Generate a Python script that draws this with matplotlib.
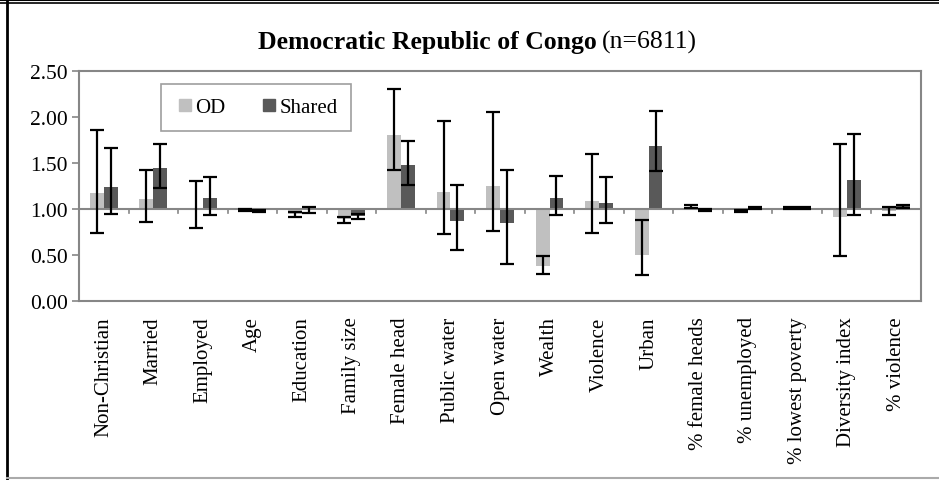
import numpy as np
import matplotlib
matplotlib.use('Agg')
import matplotlib.pyplot as plt
from matplotlib.lines import Line2D

plt.rcParams['font.family'] = ['Liberation Serif', 'DejaVu Serif']

categories = ['Non-Christian', 'Married', 'Employed', 'Age', 'Education', 'Family size',
              'Female head', 'Public water', 'Open water', 'Wealth', 'Violence', 'Urban',
              '% female heads', '% unemployed', '% lowest poverty', 'Diversity index',
              '% violence']

# odds ratios and 95% CI
od = [1.17, 1.11, 1.01, 0.99, 0.95, 0.89, 1.80, 1.19, 1.25, 0.38, 1.09, 0.50,
      1.02, 0.98, 1.01, 0.91, 0.98]
od_lo = [0.74, 0.86, 0.79, 0.98, 0.91, 0.85, 1.42, 0.73, 0.76, 0.29, 0.74, 0.28,
         1.01, 0.97, 1.00, 0.485, 0.93]
od_hi = [1.86, 1.42, 1.30, 1.00, 0.97, 0.91, 2.30, 1.96, 2.05, 0.49, 1.60, 0.88,
         1.04, 0.99, 1.02, 1.71, 1.025]

shared = [1.24, 1.445, 1.12, 0.98, 1.00, 0.92, 1.475, 0.87, 0.85, 1.12, 1.065, 1.69,
          0.99, 1.01, 1.01, 1.32, 1.03]
sh_lo = [0.945, 1.225, 0.93, 0.97, 0.96, 0.89, 1.26, 0.55, 0.40, 0.93, 0.845, 1.415,
         0.98, 1.00, 1.00, 0.94, 1.01]
sh_hi = [1.66, 1.71, 1.35, 0.99, 1.02, 0.95, 1.74, 1.26, 1.42, 1.36, 1.35, 2.06,
         1.00, 1.02, 1.02, 1.815, 1.04]

od = np.array(od); shared = np.array(shared)
x = np.arange(len(categories))
w = 0.28

fig = plt.figure(figsize=(9.39, 4.81), dpi=100)
ax = fig.add_axes([79/939, 1-302/481, (921-79)/939, (302-72)/481])

c_od = '#c0c0c0'
c_sh = '#595959'
ax.bar(x - w/2, od - 1, bottom=1, width=w, color=c_od, zorder=2)
ax.bar(x + w/2, shared - 1, bottom=1, width=w, color=c_sh, zorder=2)

ax.errorbar(x - w/2, od, yerr=[od - np.array(od_lo), np.array(od_hi) - od], fmt='none',
            ecolor='black', elinewidth=1.6, capsize=5, capthick=1.6, zorder=4)
ax.errorbar(x + w/2, shared, yerr=[shared - np.array(sh_lo), np.array(sh_hi) - shared],
            fmt='none', ecolor='black', elinewidth=1.6, capsize=5, capthick=1.6, zorder=4)

# horizontal axis crossing at 1.0 with category tick marks
axis_col = '#868686'
ax.axhline(1.0, color=axis_col, lw=1.5, zorder=3)
for b in x[:-1] + 0.5:
    ax.plot([b, b], [1.0, 0.955], color=axis_col, lw=1.2, zorder=3)

ax.set_xlim(-0.5, len(categories) - 0.5)
ax.set_ylim(0, 2.5)
ax.set_yticks(np.arange(0, 2.51, 0.5))
ax.set_yticklabels(['%.2f' % v for v in np.arange(0, 2.51, 0.5)], fontsize=15.5)
ax.set_xticks(x)
ax.set_xticklabels(categories, rotation=90, fontsize=15)
ax.tick_params(axis='x', length=0, pad=11)
ax.tick_params(axis='y', length=5, color=axis_col, width=1.2, pad=3)
for s in ax.spines.values():
    s.set_color(axis_col)
    s.set_linewidth(1.5)

handles = [Line2D([], [], marker='s', ls='none', color=c_od, markersize=9),
           Line2D([], [], marker='s', ls='none', color=c_sh, markersize=9)]
leg = ax.legend(handles, ['OD', 'Shared'], loc='upper left', bbox_to_anchor=(0.097, 0.943),
                ncol=2, fontsize=15, frameon=True, fancybox=False, handletextpad=0.0,
                columnspacing=1.6, borderpad=0.65, handlelength=1.0, borderaxespad=0)
leg.get_frame().set_edgecolor(axis_col)
leg.get_frame().set_linewidth(1.2)

# title: bold name followed by regular sample size
fig.canvas.draw()
r = fig.canvas.get_renderer()
t1 = fig.text(258/939, 1-42/481, 'Democratic Republic of Congo', fontsize=18.5,
              fontweight='bold', ha='left', va='center')
bb = t1.get_window_extent(renderer=r)
fig.text(bb.x1/939 + 5/939, 1-42/481, '(n=6811)', fontsize=18.5, ha='left', va='center')

# outer frame
fig.add_artist(Line2D([7/939, 7/939], [0, 1], transform=fig.transFigure, color='black', lw=2))
fig.add_artist(Line2D([0, 1], [1-1/481, 1-1/481], transform=fig.transFigure, color='black', lw=1.5))
fig.add_artist(Line2D([0, 1], [1-4/481, 1-4/481], transform=fig.transFigure, color='black', lw=1.2))
fig.add_artist(Line2D([7/939, 1], [2/481, 2/481], transform=fig.transFigure, color='#aaaaaa', lw=1.5))

fig.savefig('out.png', dpi=100)
